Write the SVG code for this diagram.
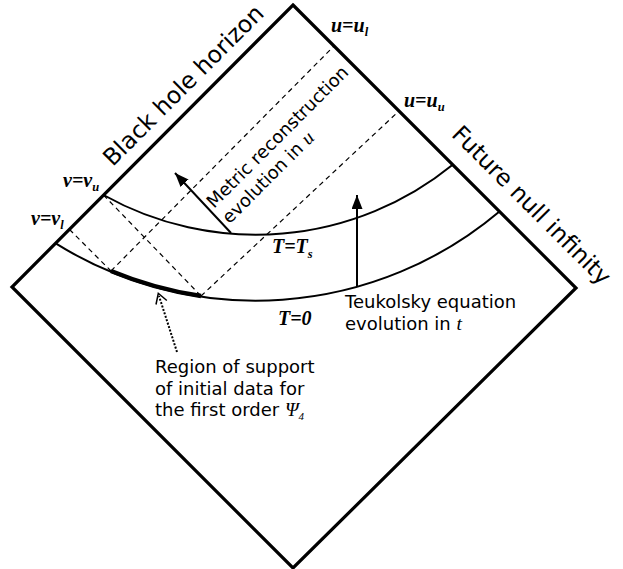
<svg xmlns="http://www.w3.org/2000/svg" width="623" height="569" viewBox="0 0 623 569">
<style>
.edge{fill:none;stroke:#000;stroke-width:3.2;stroke-linejoin:miter}
.slice{fill:none;stroke:#000;stroke-width:2}
.dash{fill:none;stroke:#000;stroke-width:1.2;stroke-dasharray:5,4}
.arr{fill:none;stroke:#000;stroke-width:2}
.sans{font-family:"DejaVu Sans",sans-serif;fill:#000}
.big{font-size:23.5px}
.mid{font-size:18px}
.lab{font-family:"Liberation Serif",serif;font-weight:bold;font-style:italic;fill:#000;font-size:20px}
.sub{font-size:12.5px}
.it{font-family:"Liberation Serif",serif;font-style:italic}
</style>
<defs>
<marker id="ah" markerUnits="userSpaceOnUse" markerWidth="16" markerHeight="12" refX="14" refY="5.5" orient="auto">
<path d="M0,0 L14,5.5 L0,11 z" fill="#000"/>
</marker>
</defs>
<g id="diamond">
<path class="edge" d="M293,5 L576,288 L293,568 L12,287 Z"/>
</g>
<g id="slices">
<path class="slice" d="M103.5,195 A312,312 0 0,0 452.7,164.7"/>
<path class="slice" d="M55.3,243.2 A378,378 0 0,0 499.5,211.5"/>
<path fill="none" stroke="#000" stroke-width="4.5" d="M111,271 A378,378 0 0,0 201,296"/>
</g>
<g id="connectors">
<line class="dash" x1="103.5" y1="195" x2="201" y2="296"/>
<line class="dash" x1="69.5" y1="229.5" x2="111" y2="271"/>
<line class="dash" x1="111" y1="271" x2="334" y2="46"/>
<line class="dash" x1="201" y1="296" x2="399" y2="111"/>
<line class="arr" x1="231" y1="233" x2="175" y2="173" marker-end="url(#ah)"/>
<line class="arr" x1="357" y1="287" x2="357" y2="195" marker-end="url(#ah)"/>
<line fill="none" stroke="#000" stroke-width="2" stroke-dasharray="2,1.6" x1="177" y1="352" x2="159" y2="296"/>
<polyline fill="none" stroke="#000" stroke-width="1.5" points="156,304.5 158.3,293.3 166.8,300.5"/>
</g>
<g id="horizon-label">
<text class="sans big" text-anchor="middle" transform="translate(189,91) rotate(-45)">Black hole horizon</text>
</g>
<g id="scri-label">
<text class="sans big" text-anchor="middle" transform="translate(526,211) rotate(45)">Future null infinity</text>
</g>
<g id="metric-label" transform="translate(214,209) rotate(-45)">
<text class="sans mid" x="0" y="0">Metric reconstruction</text>
<text class="sans mid" x="0" y="22">evolution in <tspan class="it" font-size="19.5">u</tspan></text>
</g>
<g id="teukolsky-label">
<text class="sans mid" x="345" y="308">Teukolsky equation</text>
<text class="sans mid" x="345" y="330">evolution in <tspan class="it" font-size="19.5">t</tspan></text>
</g>
<g id="support-label">
<text class="sans mid" x="155" y="373">Region of support</text>
<text class="sans mid" x="155" y="394.5">of initial data for</text>
<text class="sans mid" x="155" y="416">the first order <tspan class="it" font-size="19.5">Ψ</tspan><tspan class="it" font-size="11" dy="4">4</tspan></text>
</g>
<g id="slice-labels">
<text class="lab" x="272" y="253" font-size="21">T=T<tspan class="sub" font-size="13.5" dy="5">s</tspan></text>
<text class="lab" x="278" y="325" font-size="22">T=0</text>
</g>
<g id="null-labels">
<text class="lab" x="63" y="187">v=v<tspan class="sub" dy="4">u</tspan></text>
<text class="lab" x="31" y="225">v=v<tspan class="sub" dy="4">l</tspan></text>
<text class="lab" x="404" y="107">u=u<tspan class="sub" dy="4">u</tspan></text>
<text class="lab" x="331" y="32">u=u<tspan class="sub" dy="4">l</tspan></text>
</g>
</svg>
